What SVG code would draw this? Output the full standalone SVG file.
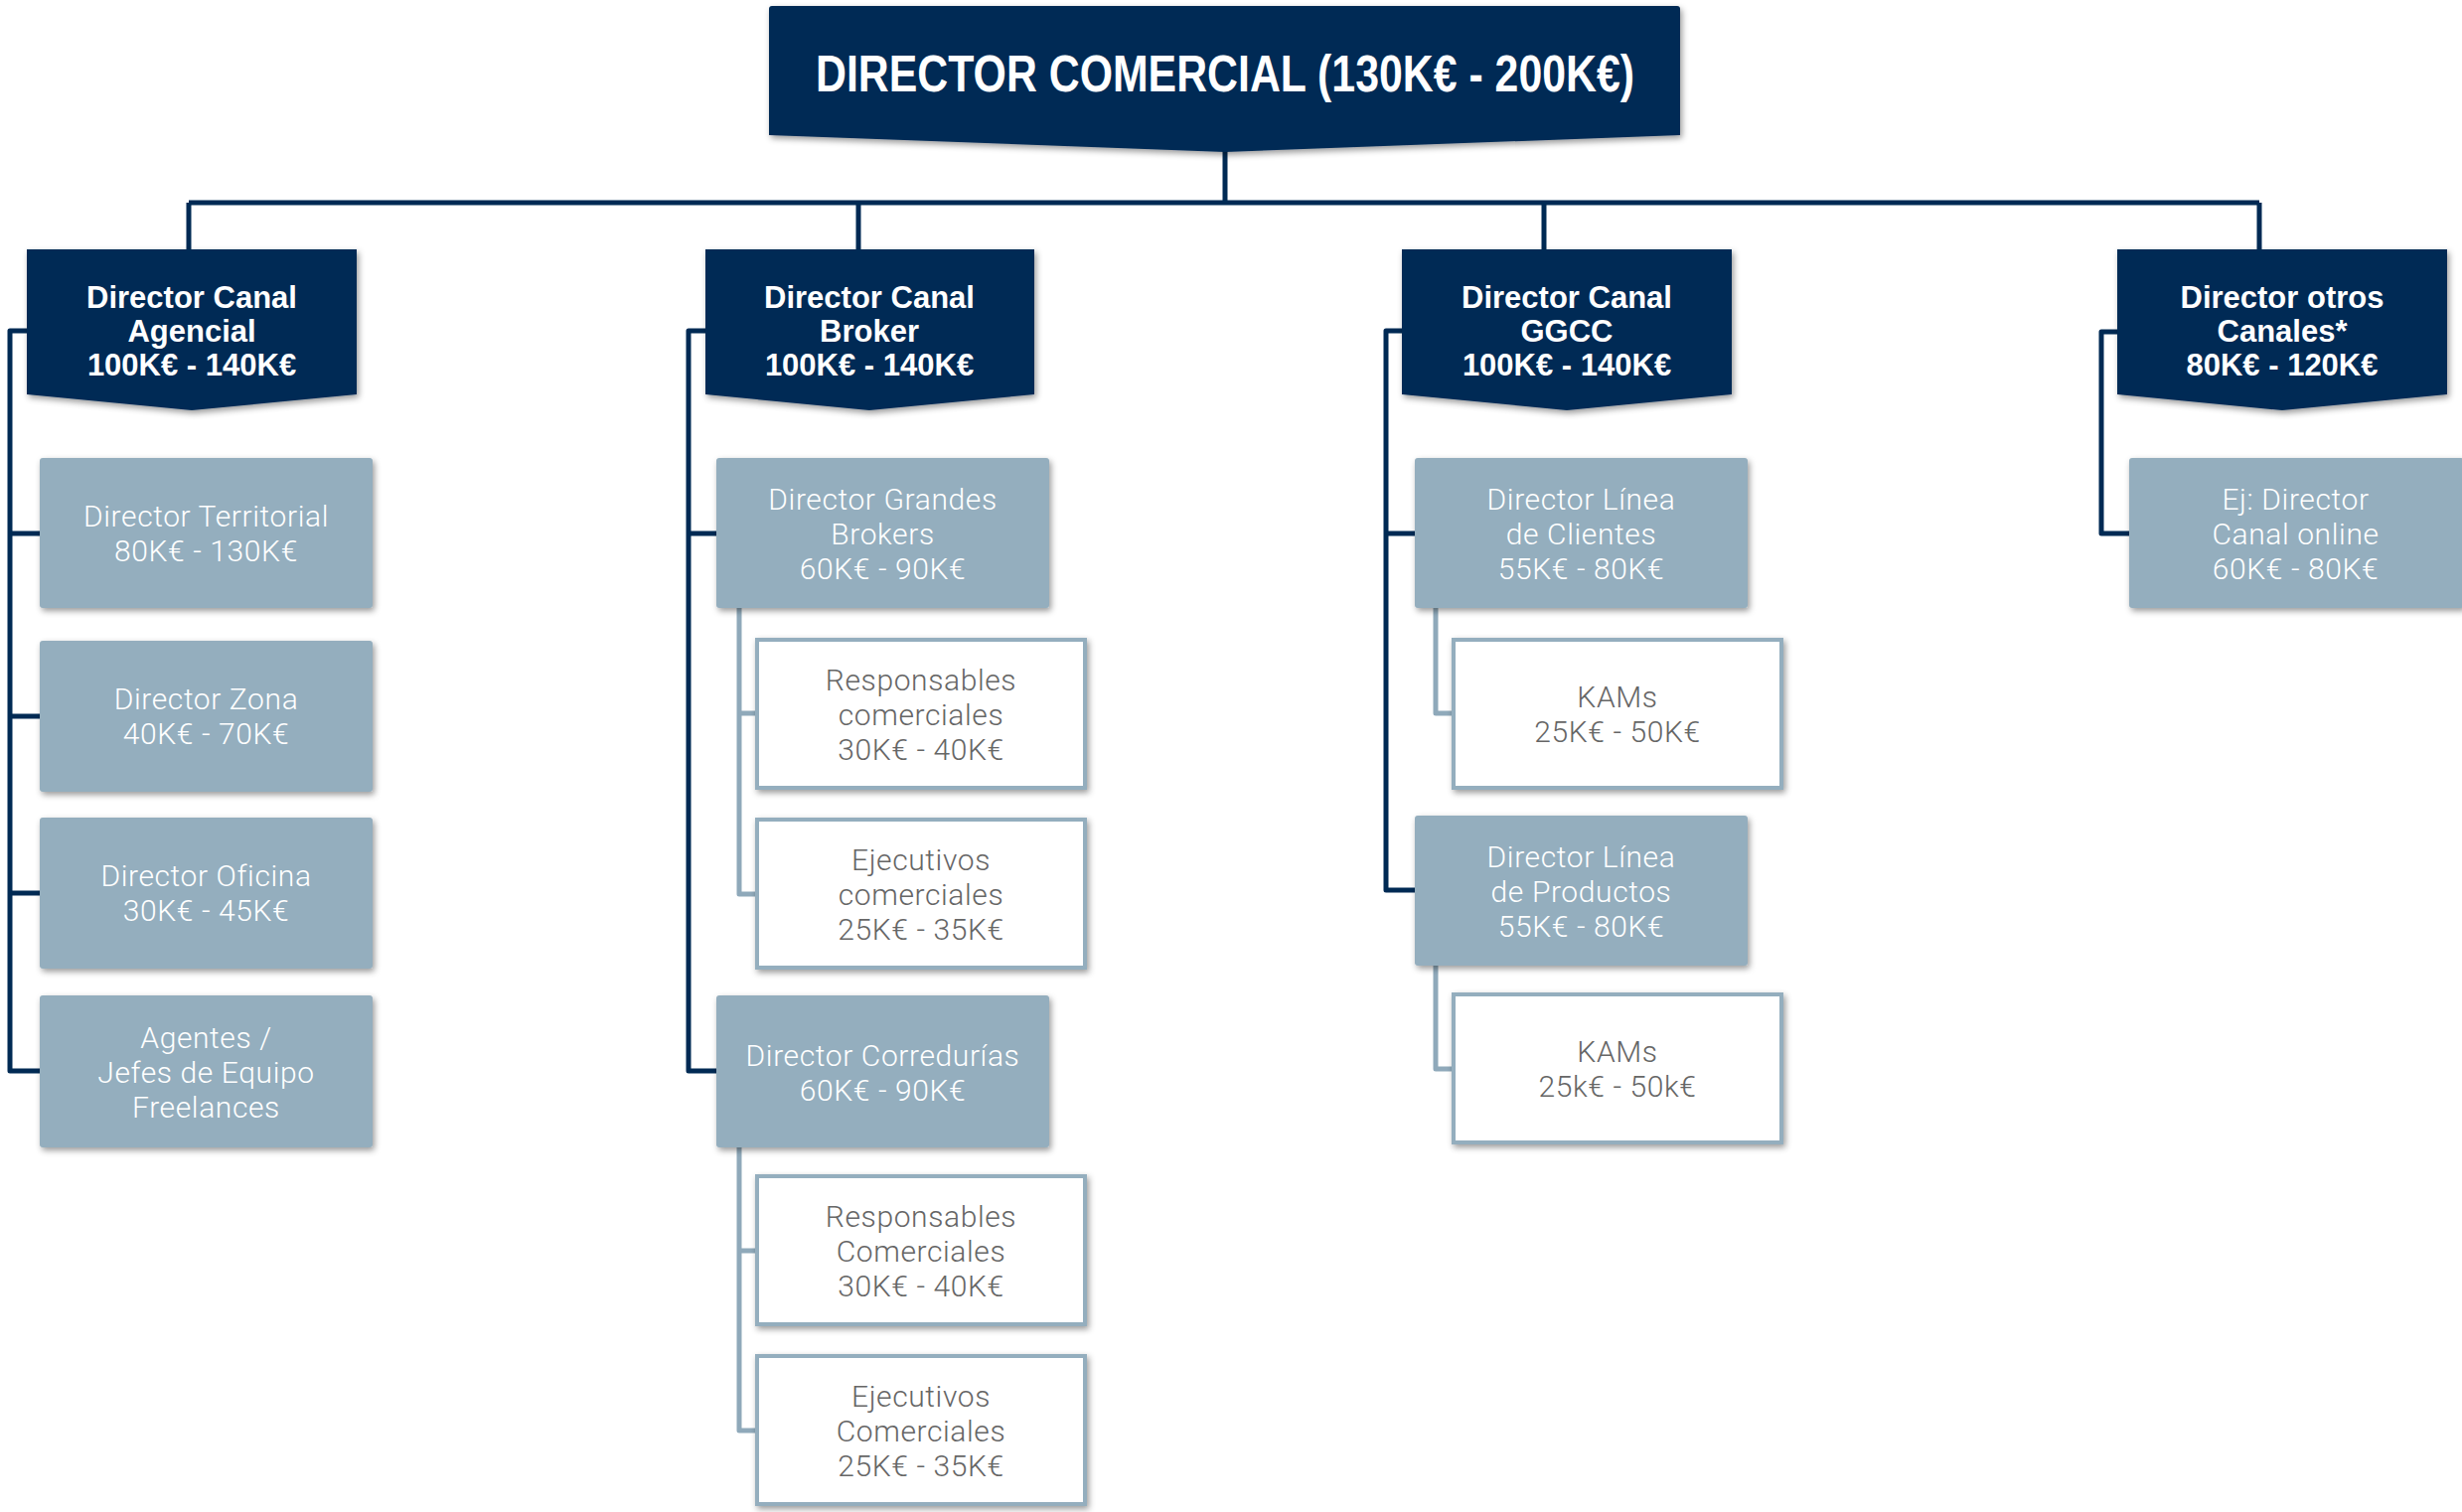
<svg xmlns="http://www.w3.org/2000/svg" width="2478" height="1522" viewBox="0 0 2478 1522">
  <defs>
    <filter id="shadow" x="-10%" y="-10%" width="125%" height="130%">
      <feDropShadow dx="2" dy="3" stdDeviation="3" flood-color="#000" flood-opacity="0.4"/>
    </filter>
    <style>
      .dark { fill: #002a54; filter: url(#shadow); }
      .light { fill: #94aebe; filter: url(#shadow); }
      .white { fill: #fff; stroke: #94aebe; stroke-width: 4; filter: url(#shadow); }
      .title { font-family: "Liberation Sans", Arial, sans-serif; font-weight: bold; font-size: 52px; fill: #fff; text-anchor: middle; }
      .dt { font-family: "Liberation Sans", Arial, sans-serif; font-weight: bold; font-size: 31px; fill: #fff; text-anchor: middle; }
      .lt { font-family: Roboto, "Liberation Sans", sans-serif; font-weight: 300; font-size: 30px; letter-spacing: 0.6px; fill: #fff; text-anchor: middle; }
      .wt { font-family: Roboto, "Liberation Sans", sans-serif; font-weight: 300; font-size: 30px; letter-spacing: 0.6px; fill: #666; text-anchor: middle; }
      .cd { fill: none; stroke: #002a54; stroke-width: 5; stroke-linejoin: round; }
      .cl { fill: none; stroke: #8fa9ba; stroke-width: 5; stroke-linejoin: round; }
    </style>
  </defs>
  <rect width="2478" height="1522" fill="#fff"/>

  <!-- connectors -->
  <g id="connectors">
    <path class="cd" d="M1233,150 V204 M190,204 H2274 M190,204 V252 M864,204 V252 M1554,204 V252 M2274,204 V252"/>
    <path class="cd" d="M28,333 H10 V1078 H40 M10,537 H40 M10,721 H40 M10,899 H40"/>
    <path class="cd" d="M711,333 H693 V1078 H721 M693,537 H721"/>
    <path class="cd" d="M1412,333 H1395 V896 H1424 M1395,537 H1424"/>
    <path class="cd" d="M2132,334 H2115 V537 H2143"/>
    <path class="cl" d="M744,612 V900 H762 M744,718 H762"/>
    <path class="cl" d="M744,1155 V1440 H762 M744,1259 H762"/>
    <path class="cl" d="M1445,612 V718 H1463"/>
    <path class="cl" d="M1445,972 V1076 H1463"/>
  </g>

  <!-- top level -->
  <g id="director-comercial">
    <path class="dark" d="M777,6 H1688 Q1691,6 1691,9 V136 L1233,153 L774,136 V9 Q774,6 777,6 Z"/>
    <text class="title" x="1233" y="92" textLength="824" lengthAdjust="spacingAndGlyphs">DIRECTOR COMERCIAL (130K€ - 200K€)</text>
  </g>

  <!-- channel directors -->
  <g id="canal-agencial">
    <path class="dark" d="M27,251 H359 V397 L193,413 L27,397 Z"/>
    <text class="dt" x="193" y="310">Director Canal</text>
    <text class="dt" x="193" y="344">Agencial</text>
    <text class="dt" x="193" y="378">100K€ - 140K€</text>
  </g>
  <g id="canal-broker">
    <path class="dark" d="M710,251 H1041 V397 L875,413 L710,397 Z"/>
    <text class="dt" x="875" y="310">Director Canal</text>
    <text class="dt" x="875" y="344">Broker</text>
    <text class="dt" x="875" y="378">100K€ - 140K€</text>
  </g>
  <g id="canal-ggcc">
    <path class="dark" d="M1411,251 H1743 V397 L1577,413 L1411,397 Z"/>
    <text class="dt" x="1577" y="310">Director Canal</text>
    <text class="dt" x="1577" y="344">GGCC</text>
    <text class="dt" x="1577" y="378">100K€ - 140K€</text>
  </g>
  <g id="canal-otros">
    <path class="dark" d="M2131,251 H2463 V397 L2297,413 L2131,397 Z"/>
    <text class="dt" x="2297" y="310">Director otros</text>
    <text class="dt" x="2297" y="344">Canales*</text>
    <text class="dt" x="2297" y="378">80K€ - 120K€</text>
  </g>

  <!-- Agencial column -->
  <g id="director-territorial">
    <rect class="light" x="40" y="461" width="335" height="151" rx="3"/>
    <text class="lt" x="207.5" y="530">Director Territorial</text>
    <text class="lt" x="207.5" y="565">80K€ - 130K€</text>
  </g>
  <g id="director-zona">
    <rect class="light" x="40" y="645" width="335" height="152" rx="3"/>
    <text class="lt" x="207.5" y="714">Director Zona</text>
    <text class="lt" x="207.5" y="749">40K€ - 70K€</text>
  </g>
  <g id="director-oficina">
    <rect class="light" x="40" y="823" width="335" height="152" rx="3"/>
    <text class="lt" x="207.5" y="892">Director Oficina</text>
    <text class="lt" x="207.5" y="927">30K€ - 45K€</text>
  </g>
  <g id="agentes">
    <rect class="light" x="40" y="1002" width="335" height="153" rx="3"/>
    <text class="lt" x="207.5" y="1055">Agentes /</text>
    <text class="lt" x="207.5" y="1090">Jefes de Equipo</text>
    <text class="lt" x="207.5" y="1125">Freelances</text>
  </g>

  <!-- Broker column -->
  <g id="director-grandes-brokers">
    <rect class="light" x="721" y="461" width="335" height="151" rx="3"/>
    <text class="lt" x="888.5" y="513">Director Grandes</text>
    <text class="lt" x="888.5" y="548">Brokers</text>
    <text class="lt" x="888.5" y="583">60K€ - 90K€</text>
  </g>
  <g id="responsables-gb">
    <rect class="white" x="762" y="644" width="330" height="149"/>
    <text class="wt" x="927" y="695">Responsables</text>
    <text class="wt" x="927" y="730">comerciales</text>
    <text class="wt" x="927" y="765">30K€ - 40K€</text>
  </g>
  <g id="ejecutivos-gb">
    <rect class="white" x="762" y="825" width="330" height="149"/>
    <text class="wt" x="927" y="876">Ejecutivos</text>
    <text class="wt" x="927" y="911">comerciales</text>
    <text class="wt" x="927" y="946">25K€ - 35K€</text>
  </g>
  <g id="director-corredurias">
    <rect class="light" x="721" y="1002" width="335" height="153" rx="3"/>
    <text class="lt" x="888.5" y="1073">Director Corredurías</text>
    <text class="lt" x="888.5" y="1108">60K€ - 90K€</text>
  </g>
  <g id="responsables-co">
    <rect class="white" x="762" y="1184" width="330" height="149"/>
    <text class="wt" x="927" y="1235">Responsables</text>
    <text class="wt" x="927" y="1270">Comerciales</text>
    <text class="wt" x="927" y="1305">30K€ - 40K€</text>
  </g>
  <g id="ejecutivos-co">
    <rect class="white" x="762" y="1365" width="330" height="149"/>
    <text class="wt" x="927" y="1416">Ejecutivos</text>
    <text class="wt" x="927" y="1451">Comerciales</text>
    <text class="wt" x="927" y="1486">25K€ - 35K€</text>
  </g>

  <!-- GGCC column -->
  <g id="linea-clientes">
    <rect class="light" x="1424" y="461" width="335" height="151" rx="3"/>
    <text class="lt" x="1591.5" y="513">Director Línea</text>
    <text class="lt" x="1591.5" y="548">de Clientes</text>
    <text class="lt" x="1591.5" y="583">55K€ - 80K€</text>
  </g>
  <g id="kams-clientes">
    <rect class="white" x="1463" y="644" width="330" height="149"/>
    <text class="wt" x="1628" y="712">KAMs</text>
    <text class="wt" x="1628" y="747">25K€ - 50K€</text>
  </g>
  <g id="linea-productos">
    <rect class="light" x="1424" y="821" width="335" height="151" rx="3"/>
    <text class="lt" x="1591.5" y="873">Director Línea</text>
    <text class="lt" x="1591.5" y="908">de Productos</text>
    <text class="lt" x="1591.5" y="943">55K€ - 80K€</text>
  </g>
  <g id="kams-productos">
    <rect class="white" x="1463" y="1001" width="330" height="149"/>
    <text class="wt" x="1628" y="1069">KAMs</text>
    <text class="wt" x="1628" y="1104">25k€ - 50k€</text>
  </g>

  <!-- other channels column -->
  <g id="canal-online">
    <rect class="light" x="2143" y="461" width="337" height="151" rx="3"/>
    <text class="lt" x="2310.5" y="513">Ej: Director</text>
    <text class="lt" x="2310.5" y="548">Canal online</text>
    <text class="lt" x="2310.5" y="583">60K€ - 80K€</text>
  </g>
</svg>
